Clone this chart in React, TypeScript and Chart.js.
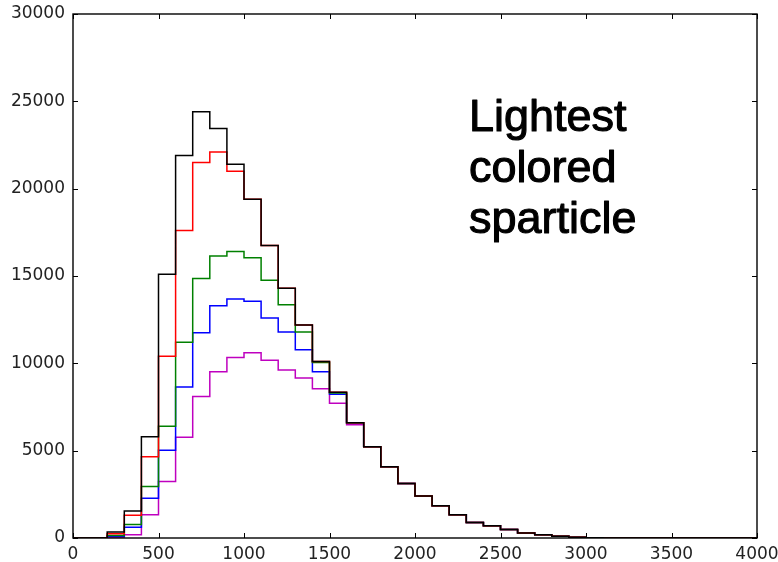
import { useEffect, useRef } from "react";
import { Chart, registerables } from "chart.js";

Chart.register(...registerables);

// Histogram bin edges (40 bins of width 100 from 0 to 4000)
const binEdges = [
  0, 100, 200, 300, 400, 500, 600, 700, 800, 900,
  1000, 1100, 1200, 1300, 1400, 1500, 1600, 1700, 1800, 1900,
  2000, 2100, 2200, 2300, 2400, 2500, 2600, 2700, 2800, 2900,
  3000, 3100, 3200, 3300, 3400, 3500, 3600, 3700, 3800, 3900, 4000,
];

// Counts per bin for each histogram
const blackCounts = [
  0, 0, 350, 1550, 5800, 15100, 21900, 24400, 23450, 21400,
  19400, 16750, 14300, 12200, 10100, 8350, 6600, 5220, 4080, 3120,
  2400, 1850, 1330, 890, 700, 480, 290, 190, 95, 40,
  20, 0, 0, 0, 0, 0, 0, 0, 0, 0,
];
const redCounts = [
  0, 0, 250, 1300, 4650, 10400, 17600, 21500, 22100, 21000,
  19400, 16750, 14300, 12200, 10100, 8350, 6600, 5220, 4080, 3120,
  2400, 1850, 1330, 890, 700, 480, 290, 190, 95, 40,
  20, 0, 0, 0, 0, 0, 0, 0, 0, 0,
];
const greenCounts = [
  0, 0, 150, 770, 2950, 6400, 11200, 14850, 16150, 16400,
  16050, 14750, 13350, 11800, 10050, 8300, 6600, 5220, 4080, 3120,
  2400, 1850, 1330, 890, 700, 480, 290, 190, 95, 40,
  20, 0, 0, 0, 0, 0, 0, 0, 0, 0,
];
const blueCounts = [
  0, 0, 100, 610, 2270, 5030, 8650, 11750, 13300, 13680,
  13550, 12600, 11800, 10780, 9520, 8230, 6600, 5220, 4080, 3120,
  2400, 1850, 1330, 890, 700, 480, 290, 190, 95, 40,
  20, 0, 0, 0, 0, 0, 0, 0, 0, 0,
];
const magentaCounts = [
  0, 0, 40, 190, 1330, 3240, 5770, 8100, 9520, 10340,
  10600, 10170, 9620, 9160, 8550, 7710, 6480, 5220, 4080, 3120,
  2400, 1850, 1330, 890, 700, 480, 290, 190, 95, 40,
  20, 0, 0, 0, 0, 0, 0, 0, 0, 0,
];

const xTickStep = 500;
const yTickStep = 5000;
const annotationLines = ["Lightest", "colored", "sparticle"];

// Step outline: one point per left bin edge, closed at the last edge
function stepPoints(counts: number[]) {
  const pts = counts.map((c, i) => ({ x: binEdges[i], y: c }));
  pts.push({ x: binEdges[binEdges.length - 1], y: counts[counts.length - 1] });
  return pts;
}

const series = [
  { counts: blackCounts, color: "#000000" },
  { counts: redCounts, color: "#ff0000" },
  { counts: greenCounts, color: "#008000" },
  { counts: blueCounts, color: "#0000ff" },
  { counts: magentaCounts, color: "#bf00bf" },
];

const frameAndLabels = {
  id: "frameAndLabels",
  afterDatasetsDraw(chart: any) {
    const { ctx, chartArea: a, scales } = chart;
    const xs = scales.x;
    const ys = scales.y;
    ctx.save();
    // inward tick marks on all four sides
    ctx.strokeStyle = "#000";
    ctx.lineWidth = 1;
    ctx.beginPath();
    for (const t of xs.ticks) {
      const px = Math.round(xs.getPixelForValue(t.value)) + 0.5;
      ctx.moveTo(px, a.bottom);
      ctx.lineTo(px, a.bottom - 5);
      ctx.moveTo(px, a.top);
      ctx.lineTo(px, a.top + 5);
    }
    for (const t of ys.ticks) {
      const py = Math.round(ys.getPixelForValue(t.value)) + 0.5;
      ctx.moveTo(a.left, py);
      ctx.lineTo(a.left + 5, py);
      ctx.moveTo(a.right, py);
      ctx.lineTo(a.right - 5, py);
    }
    ctx.stroke();
    // axes frame
    ctx.lineWidth = 1.4;
    ctx.strokeRect(a.left, a.top, a.right - a.left, a.bottom - a.top);
    // annotation text
    ctx.fillStyle = "#000";
    ctx.strokeStyle = "#000";
    ctx.lineWidth = 1.1;
    ctx.lineJoin = "round";
    ctx.font = "45px 'Liberation Sans', Arial, sans-serif";
    ctx.textAlign = "left";
    ctx.textBaseline = "alphabetic";
    annotationLines.forEach((line, i) => {
      ctx.fillText(line, 469, 131 + i * 51);
      ctx.strokeText(line, 469, 131 + i * 51);
    });
    ctx.restore();
  },
};

export default function App() {
  const canvasRef = useRef<HTMLCanvasElement | null>(null);

  useEffect(() => {
    if (!canvasRef.current) return;
    const tickFont = { family: "'DejaVu Sans', sans-serif", size: 17 };
    const plain = (v: any) => String(v);
    const chart = new Chart(canvasRef.current, {
      type: "line",
      data: {
        datasets: series.map((s, i) => ({
          data: stepPoints(s.counts),
          borderColor: s.color,
          backgroundColor: s.color,
          borderWidth: 1.5,
          pointRadius: 0,
          stepped: "before" as const,
          fill: false,
          order: i,
        })),
      },
      options: {
        animation: false,
        responsive: false,
        events: [],
        layout: { padding: { top: 14, right: 21, left: 0, bottom: 0 } },
        plugins: {
          legend: { display: false },
          tooltip: { enabled: false },
        },
        scales: {
          x: {
            type: "linear",
            min: 0,
            max: 4000,
            grid: { display: false, drawTicks: false },
            border: { display: false },
            ticks: {
              stepSize: xTickStep,
              color: "#222",
              font: tickFont,
              padding: 6,
              maxRotation: 0,
              autoSkip: false,
              callback: plain,
            },
            afterFit: (s: any) => {
              s.height = 24;
              s.paddingLeft = 0;
              s.paddingRight = 0;
            },
          },
          y: {
            type: "linear",
            min: 0,
            max: 30000,
            grid: { display: false, drawTicks: false },
            border: { display: false },
            ticks: {
              stepSize: yTickStep,
              color: "#222",
              font: tickFont,
              padding: 8,
              autoSkip: false,
              callback: plain,
            },
            afterFit: (s: any) => {
              s.width = 73;
              s.paddingTop = 0;
              s.paddingBottom = 0;
            },
          },
        },
      },
      plugins: [frameAndLabels],
    });
    return () => chart.destroy();
  }, []);

  return (
    <div style={{ position: "absolute", left: 0, top: 0, width: 778, height: 562, background: "#fff" }}>
      <canvas ref={canvasRef} width={778} height={562} />
    </div>
  );
}
